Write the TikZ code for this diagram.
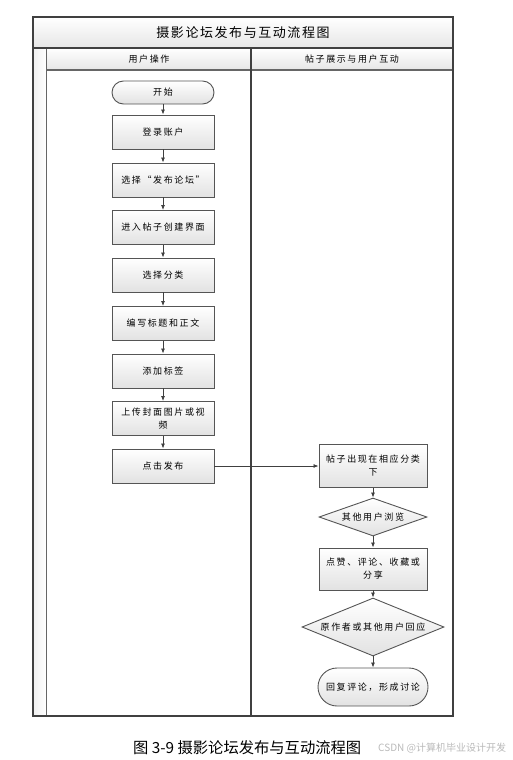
\documentclass[tikz,border=0pt]{standalone}
\usepackage{fontspec}
\newfontfamily\cjk[LetterSpace=18]{Noto Sans CJK SC}
\newfontfamily\cjktitle[LetterSpace=12]{Noto Sans CJK SC}
\newfontfamily\cjkplain{Noto Sans CJK SC}
\usetikzlibrary{shapes.geometric,arrows.meta}
\definecolor{frameline}{HTML}{404040}
\definecolor{boxline}{HTML}{555555}
\definecolor{fillbot}{HTML}{E2E2E2}
\definecolor{bandbot}{HTML}{E6E6E6}
\begin{document}
\begin{tikzpicture}[x=1pt,y=-1pt,
  box/.style={draw=boxline, line width=0.9pt, top color=white, bottom color=fillbot,
    minimum width=102pt, minimum height=34pt, inner sep=1pt, align=center,
    font=\cjk\fontsize{9}{13}\selectfont},
  term/.style={box, rounded corners=11.5pt, minimum height=23pt},
  dec/.style={box, diamond, inner sep=0pt},
  arr/.style={draw=frameline, line width=0.8pt, -{Latex[length=5pt,width=4pt]}},
  lane/.style={draw=frameline, line width=1.2pt},
  hdr/.style={font=\cjk\fontsize{9}{11}\selectfont}]
\useasboundingbox (0,0) rectangle (512,760);
% bands
\shade[top color=white, bottom color=bandbot] (33,17) rectangle (453,48);
\shade[top color=white, bottom color=bandbot] (46,48) rectangle (453,70);
\shade[left color=gray!12, right color=white] (33,48) rectangle (46,716);
\node[font=\cjktitle\fontsize{13}{15}\selectfont] (title) at (243,32.5) {摄影论坛发布与互动流程图};
\node[hdr] (h1) at (149,59) {用户操作};
\node[hdr] (h2) at (352,59) {帖子展示与用户互动};
% lines
\draw[draw=gray!80!black, line width=1pt] (46,48) -- (46,716);
\draw[draw=gray!80!black, line width=1.2pt] (46,70) -- (453,70);
\draw[lane] (251,48) -- (251,716);
\draw[lane] (33,48) -- (453,48);
\draw[lane] (33,17) rectangle (453,716);
% left lane
\node[term] (start) at (163,92.5) {开始};
\node[box] (login) at (163,132) {登录账户};
\node[box] (choose) at (163,180) {选择“发布论坛”};
\node[box] (enter) at (163,227.5) {进入帖子创建界面};
\node[box] (cat) at (163,275) {选择分类};
\node[box] (write) at (163,323.5) {编写标题和正文};
\node[box] (tag) at (163,371) {添加标签};
\node[box] (upload) at (163,418.5) {上传封面图片或视\\频};
\node[box] (publish) at (163,466) {点击发布};
% right lane
\node[box, minimum width=108pt, minimum height=43pt] (show) at (373,466) {帖子出现在相应分类\\下};
\node[dec, aspect=2.9, minimum width=108pt, minimum height=38pt] (browse) at (373,517) {其他用户浏览};
\node[box, minimum width=108pt, minimum height=42pt] (like) at (373,569) {点赞、评论、收藏或\\分享};
\node[dec, aspect=2.5, minimum width=142pt, minimum height=58pt] (reply) at (373,627) {原作者或其他用户回应};
\node[term, minimum width=110pt, minimum height=38pt, rounded corners=19pt] (discuss) at (373,687) {回复评论，形成讨论};
% arrows
\draw[arr] (start) -- (login);
\draw[arr] (login) -- (choose);
\draw[arr] (choose) -- (enter);
\draw[arr] (enter) -- (cat);
\draw[arr] (cat) -- (write);
\draw[arr] (write) -- (tag);
\draw[arr] (tag) -- (upload);
\draw[arr] (upload) -- (publish);
\draw[arr] (publish) -- (show);
\draw[arr] (show) -- (browse);
\draw[arr] (browse) -- (like);
\draw[arr] (like) -- (reply);
\draw[arr] (reply) -- (discuss);
% caption
\node[font=\cjkplain\fontsize{15.3}{17}\selectfont, anchor=west, inner sep=0pt] (cap) at (133,748) {图 3-9 摄影论坛发布与互动流程图};
\node[font=\cjkplain\fontsize{10}{12}\selectfont, text=gray!55, anchor=west, inner sep=0pt] (wm) at (378,748) {CSDN @计算机毕业设计开发};
\end{tikzpicture}
\end{document}
